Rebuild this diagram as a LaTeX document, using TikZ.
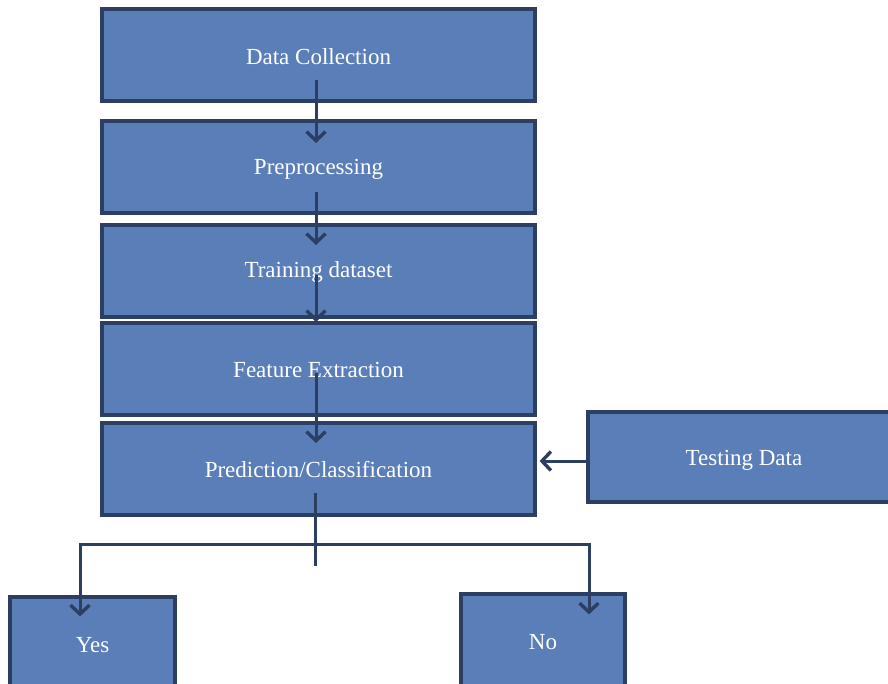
\documentclass[tikz,border=0pt]{standalone}
\usepackage{fontspec}
\setmainfont{Liberation Serif}
\usetikzlibrary{arrows.meta}
\definecolor{boxfill}{HTML}{5A7FB8}
\definecolor{boxline}{HTML}{2C3F62}
\tikzset{
  stepbox/.style={draw=boxline, line width=3.2pt, fill=boxfill, text=white,
    font=\fontsize{23}{26}\selectfont, inner sep=0pt, anchor=center},
  lbl/.style={font=\fontsize{23}{26}\selectfont, text=white},
  arr/.style={draw=boxline, line width=3pt, -{Straight Barb[length=9pt,width=19pt,line width=3.4pt]}},
  plain/.style={draw=boxline, line width=3pt}
}
\begin{document}
\begin{tikzpicture}[x=1pt,y=-1pt]
\useasboundingbox (0,0) rectangle (888,683);
\clip (0,0) rectangle (888,683);
\node[stepbox, minimum width=433pt, minimum height=92pt] (dc) at (318.5,55) {};
\node[lbl] (dct) at (318.5,57) {Data Collection};
\node[stepbox, minimum width=433pt, minimum height=92pt] (pp) at (318.5,167) {};
\node[lbl] (ppt) at (318.5,169) {Preprocessing};
\node[stepbox, minimum width=433pt, minimum height=92pt] (td) at (318.5,271) {};
\node[lbl] (tdt) at (318.5,272) {Training dataset};
\node[stepbox, minimum width=433pt, minimum height=92pt] (fe) at (318.5,369) {};
\node[lbl] (fet) at (318.5,370) {Feature Extraction};
\node[stepbox, minimum width=433pt, minimum height=92pt] (pr) at (318.5,469) {};
\node[lbl] (prt) at (318.5,470) {Prediction/Classification};
\node[stepbox, minimum width=310pt, minimum height=90pt] (ts) at (743,457) {};
\node[lbl] (tst) at (744,460) {Testing Data};
\node[stepbox, minimum width=165pt, minimum height=110pt] (yes) at (92.5,652) {};
\node[lbl] (yest) at (92.5,645) {Yes};
\node[stepbox, minimum width=164pt, minimum height=110pt] (no) at (543,649) {};
\node[lbl] (not) at (543,642) {No};
% vertical chain
\draw[arr] ([xshift=-2.5pt,yshift=-25pt]dc.center) -- ([xshift=-2.5pt,yshift=24pt]pp.center);
\draw[arr] ([xshift=-2.5pt,yshift=-25pt]pp.center) -- ([xshift=-2.5pt,yshift=26pt]td.center);
\draw[arr] ([xshift=-2.5pt,yshift=-4pt]td.center) -- ([xshift=-2.5pt,yshift=-51pt]td.center);
\draw[arr] ([xshift=-2.5pt,yshift=-4pt]fe.center) -- ([xshift=-2.5pt,yshift=26pt]pr.center);
% testing data
\draw[arr] ([yshift=-4pt]ts.west) -- ([xshift=3pt,yshift=8pt]pr.east);
% branch
\coordinate (j) at (315,544);
\draw[plain] ([xshift=-3.5pt,yshift=-24pt]pr.center) -- (315,566);
\draw[arr] (j) -| ([xshift=-12.5pt,yshift=-21pt]yes.north);
\draw[arr] (j) -| ([xshift=46pt,yshift=-22pt]no.north);
\end{tikzpicture}
\end{document}
